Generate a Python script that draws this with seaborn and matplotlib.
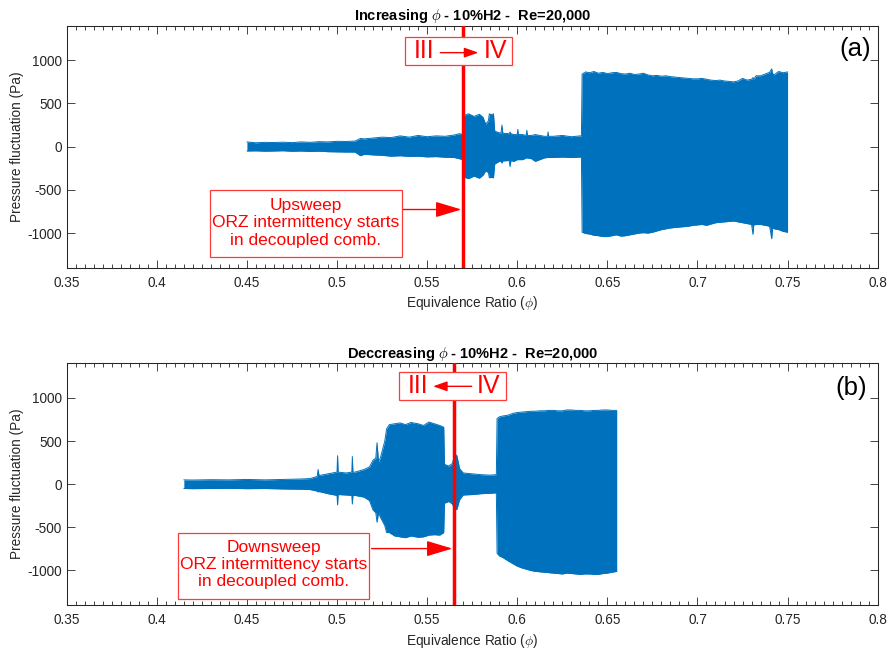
import numpy as np
import pandas as pd
import matplotlib
matplotlib.use("Agg")
import matplotlib.pyplot as plt
import seaborn as sns
from matplotlib.patches import Rectangle
from matplotlib.ticker import FixedLocator, FixedFormatter, MultipleLocator

# ---------------- data (envelope of the pressure signal) -------------
phi_a = [0.4500, 0.4550, 0.4600, 0.4650, 0.4700, 0.4750, 0.4800, 0.4850, 0.4900, 0.4950,
         0.5000, 0.5050, 0.5100, 0.5130, 0.5150, 0.5200, 0.5250, 0.5300, 0.5350, 0.5400,
         0.5450, 0.5500, 0.5550, 0.5600, 0.5650, 0.5680, 0.5698, 0.5702, 0.5730, 0.5760,
         0.5790, 0.5810, 0.5825, 0.5840, 0.5845, 0.5855, 0.5868, 0.5875, 0.5900, 0.5910,
         0.5915, 0.5920, 0.5955, 0.5960, 0.5965, 0.5980, 0.6000, 0.6003, 0.6006, 0.6030,
         0.6050, 0.6053, 0.6056, 0.6080, 0.6100, 0.6150, 0.6168, 0.6171, 0.6174, 0.6200,
         0.6250, 0.6300, 0.6350, 0.6356, 0.6360, 0.6380, 0.6400, 0.6425, 0.6450, 0.6475,
         0.6500, 0.6525, 0.6550, 0.6575, 0.6600, 0.6625, 0.6650, 0.6675, 0.6700, 0.6725,
         0.6750, 0.6775, 0.6800, 0.6825, 0.6850, 0.6875, 0.6900, 0.6925, 0.6950, 0.6975,
         0.7000, 0.7025, 0.7050, 0.7075, 0.7100, 0.7125, 0.7150, 0.7175, 0.7200, 0.7225,
         0.7250, 0.7275, 0.7300, 0.7308, 0.7312, 0.7325, 0.7350, 0.7375, 0.7400, 0.7412,
         0.7416, 0.7425, 0.7450, 0.7475, 0.7500]
up_a = [55, 45, 50, 48, 52, 47, 55, 50, 58, 55,
        62, 60, 65, 95, 90, 100, 110, 105, 125, 110,
        130, 115, 125, 120, 135, 150, 140, 360, 380, 350,
        375, 340, 260, 300, 380, 370, 380, 180, 160, 160,
        250, 155, 150, 170, 150, 140, 140, 200, 140, 140,
        130, 190, 130, 130, 140, 120, 120, 170, 120, 120,
        130, 115, 125, 125, 840, 865, 855, 870, 850, 860,
        845, 855, 860, 845, 840, 850, 835, 840, 850, 830,
        820, 825, 815, 820, 810, 805, 800, 795, 790, 785,
        785, 790, 780, 770, 765, 770, 760, 755, 750, 760,
        790, 770, 780, 800, 780, 820, 820, 840, 860, 900,
        850, 830, 870, 855, 865]
lo_a = [-50, -48, -52, -50, -47, -53, -50, -55, -52, -58,
        -60, -62, -62, -105, -88, -95, -100, -110, -105, -112,
        -110, -118, -115, -122, -125, -140, -150, -350, -370, -340,
        -365, -330, -280, -300, -360, -355, -360, -200, -170, -170,
        -190, -165, -160, -230, -160, -170, -150, -150, -150, -150,
        -130, -130, -130, -140, -170, -130, -125, -125, -125, -125,
        -120, -125, -120, -120, -990, -1005, -1010, -1025, -1030, -1040,
        -1040, -1030, -1020, -1035, -1030, -1020, -1010, -1000, -995, -1000,
        -990, -975, -960, -950, -940, -935, -930, -925, -920, -910,
        -905, -900, -910, -895, -880, -875, -870, -865, -860, -870,
        -880, -890, -900, -1015, -905, -900, -900, -910, -920, -1065,
        -940, -950, -960, -980, -990]

phi_b = [0.4150, 0.4200, 0.4300, 0.4400, 0.4500, 0.4600, 0.4700, 0.4800, 0.4850, 0.4890,
         0.4895, 0.4900, 0.4950, 0.5000, 0.5003, 0.5006, 0.5050, 0.5082, 0.5085, 0.5088,
         0.5100, 0.5150, 0.5180, 0.5200, 0.5215, 0.5222, 0.5230, 0.5240, 0.5265, 0.5275,
         0.5290, 0.5320, 0.5350, 0.5380, 0.5410, 0.5450, 0.5480, 0.5510, 0.5540, 0.5570,
         0.5592, 0.5596, 0.5620, 0.5640, 0.5655, 0.5665, 0.5680, 0.5700, 0.5750, 0.5800,
         0.5850, 0.5884, 0.5888, 0.5900, 0.5920, 0.5950, 0.5975, 0.6000, 0.6025, 0.6050,
         0.6075, 0.6100, 0.6125, 0.6150, 0.6175, 0.6200, 0.6225, 0.6250, 0.6275, 0.6300,
         0.6325, 0.6350, 0.6375, 0.6400, 0.6425, 0.6450, 0.6475, 0.6500, 0.6525, 0.6552]
up_b = [50, 48, 52, 50, 55, 50, 55, 60, 65, 90,
        170, 100, 120, 140, 330, 140, 130, 140, 320, 140,
        140, 170, 200, 280, 300, 480, 260, 300, 500, 640,
        690, 700, 710, 690, 715, 700, 680, 720, 700, 680,
        660, 230, 210, 240, 350, 330, 180, 130, 120, 110,
        105, 110, 760, 780, 790, 800, 820, 830, 835, 840,
        845, 845, 850, 850, 855, 855, 850, 850, 860, 860,
        855, 855, 850, 850, 855, 855, 860, 860, 855, 855]
lo_b = [-50, -52, -50, -48, -52, -50, -55, -58, -62, -80,
        -90, -85, -110, -130, -240, -120, -125, -130, -230, -130,
        -130, -150, -190, -300, -330, -440, -330, -380, -480, -560,
        -560, -600, -610, -620, -600, -615, -610, -590, -585, -590,
        -560, -220, -200, -230, -300, -290, -180, -125, -120, -110,
        -105, -100, -800, -830, -850, -890, -920, -950, -970, -985,
        -1000, -1010, -1015, -1020, -1025, -1030, -1035, -1040, -1030, -1035,
        -1040, -1045, -1040, -1040, -1045, -1045, -1035, -1030, -1020, -1010]

line_a = 0.570   # III -> IV transition, upsweep
line_b = 0.565   # III <- IV transition, downsweep

xticks = [0.35, 0.40, 0.45, 0.50, 0.55, 0.60, 0.65, 0.70, 0.75, 0.80]
xtick_labels = ["0.35", "0.4", "0.45", "0.5", "0.55", "0.6", "0.65", "0.7", "0.75", "0.8"]
yticks = [-1000, -500, 0, 500, 1000]
ytick_labels = ["-1000", "-500", "0", "500", "1000"]

title_a = r"Increasing $\phi$ - 10%H2 -  Re=20,000"
title_b = r"Deccreasing $\phi$ - 10%H2 -  Re=20,000"
xlabel = r"Equivalence Ratio ($\phi$)"
ylabel = "Pressure fluctuation (Pa)"
note_a = "Upsweep\nORZ intermittency starts\nin decoupled comb."
note_b = "Downsweep\nORZ intermittency starts\nin decoupled comb."

# ---------------- style ----------------
sns.set_theme(style="ticks")
plt.rcParams["font.family"] = ["Liberation Sans", "DejaVu Sans"]
plt.rcParams["mathtext.fontset"] = "cm"
plt.rcParams["axes.unicode_minus"] = False

BLUE = "#0072BD"
RED = "#FF0000"
BOXRED = "#FF3B3B"
DARK = "#262626"

fig = plt.figure(figsize=(8.88, 6.5), dpi=100)
ax_a = fig.add_axes([0.0751, 0.5882, 0.9133, 0.3723])
ax_b = fig.add_axes([0.0751, 0.0692, 0.9133, 0.3718])


def draw_signal(ax, phi, up, lo):
    n = len(phi)
    df = pd.DataFrame({
        "phi": list(phi) + list(phi),
        "p": list(up) + list(lo),
        "edge": ["upper"] * n + ["lower"] * n,
    })
    ax.fill_between(phi, lo, up, color=BLUE, lw=0, zorder=2)
    sns.lineplot(data=df, x="phi", y="p", units="edge", estimator=None, sort=False,
                 color=BLUE, lw=0.7, ax=ax, legend=False, zorder=2)


def style_axes(ax, title):
    ax.set_xlim(0.35, 0.8)
    ax.set_ylim(-1400, 1400)
    ax.xaxis.set_major_locator(FixedLocator(xticks))
    ax.xaxis.set_major_formatter(FixedFormatter(xtick_labels))
    ax.xaxis.set_minor_locator(MultipleLocator(0.005))
    ax.yaxis.set_major_locator(FixedLocator(yticks))
    ax.yaxis.set_major_formatter(FixedFormatter(ytick_labels))
    ax.tick_params(which="both", direction="in", top=True, right=True,
                   colors=DARK, labelsize=9.8, width=0.6)
    ax.tick_params(which="major", length=5.5)
    ax.tick_params(which="minor", length=3)
    ax.tick_params(axis="x", which="major", pad=6)
    ax.tick_params(axis="y", which="major", pad=3.5)
    for s in ax.spines.values():
        s.set_color(DARK)
        s.set_linewidth(0.75)
    ax.set_xlabel(xlabel, fontsize=9.8, color=DARK, labelpad=3)
    ax.set_ylabel(ylabel, fontsize=9.8, color=DARK, labelpad=2)
    ax.set_title(title, fontsize=10.5, fontweight="bold", color="black", pad=4)


def box(ax, x0, x1, y0, y1):
    ax.add_patch(Rectangle((x0, y0), x1 - x0, y1 - y0, facecolor="white",
                           edgecolor=BOXRED, lw=0.9, zorder=4))


def arrow(ax, start, tip, hl, hw, ms):
    ax.annotate("", xy=tip, xytext=start, zorder=5,
                arrowprops=dict(arrowstyle=f"-|>,head_length={hl},head_width={hw}",
                                color=RED, lw=1.0, mutation_scale=ms,
                                shrinkA=0, shrinkB=0))


# ---------------- panel (a) ----------------
draw_signal(ax_a, phi_a, up_a, lo_a)
style_axes(ax_a, title_a)
ax_a.axvline(line_a, color=RED, lw=2.5, zorder=3)
box(ax_a, 0.5377, 0.5973, 946, 1265)
ax_a.text(0.5484, 1107, "III", color=RED, fontsize=18, ha="center", va="center", zorder=5)
ax_a.text(0.5877, 1107, "IV", color=RED, fontsize=18, ha="center", va="center", zorder=5)
arrow(ax_a, (0.5573, 1088), (0.5784, 1088), 0.85, 0.3, 10)
box(ax_a, 0.4296, 0.5359, -1277, -507)
ax_a.text(0.4827, -880, note_a, color=RED, fontsize=12.5, ha="center", va="center",
          linespacing=1.2, zorder=5)
arrow(ax_a, (0.5368, -727), (0.5690, -727), 0.8, 0.24, 20)
ax_a.text(0.7874, 1130, "(a)", color="black", fontsize=18.5, ha="center", va="center")

# ---------------- panel (b) ----------------
draw_signal(ax_b, phi_b, up_b, lo_b)
style_axes(ax_b, title_b)
ax_b.axvline(line_b, color=RED, lw=2.5, zorder=3)
box(ax_b, 0.5344, 0.5938, 972, 1299)
ax_b.text(0.5451, 1134, "III", color=RED, fontsize=18, ha="center", va="center", zorder=5)
ax_b.text(0.5839, 1134, "IV", color=RED, fontsize=18, ha="center", va="center", zorder=5)
arrow(ax_b, (0.5747, 1134), (0.5533, 1134), 0.85, 0.3, 10)
box(ax_b, 0.4119, 0.5179, -1326, -565)
ax_b.text(0.4649, -931, note_b, color=RED, fontsize=12.5, ha="center", va="center",
          linespacing=1.2, zorder=5)
arrow(ax_b, (0.5192, -746), (0.5640, -746), 0.8, 0.24, 20)
ax_b.text(0.7855, 1111, "(b)", color="black", fontsize=18.5, ha="center", va="center")

fig.savefig("out.png", dpi=100, facecolor="white")
